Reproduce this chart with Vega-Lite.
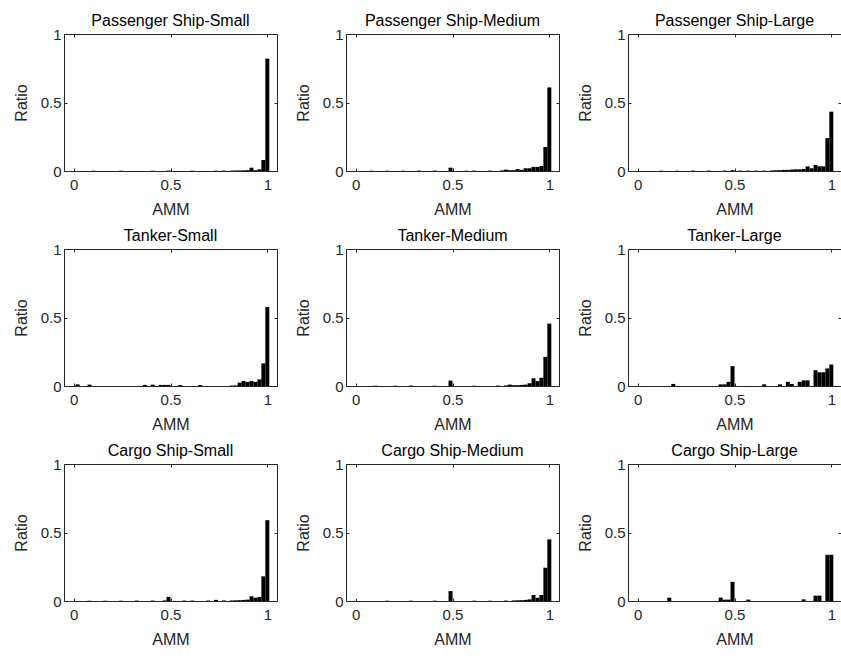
{
  "$schema": "https://vega.github.io/schema/vega-lite/v6.json",
  "background": "white",
  "padding": {"left": 12, "top": 12, "right": 0, "bottom": 0},
  "data": {"values": [
    {"panel": "Passenger Ship-Small", "amm": 1.0, "ratio": 0.82},
    {"panel": "Passenger Ship-Small", "amm": 0.9796, "ratio": 0.08},
    {"panel": "Passenger Ship-Small", "amm": 0.9592, "ratio": 0.012},
    {"panel": "Passenger Ship-Small", "amm": 0.9388, "ratio": 0.006},
    {"panel": "Passenger Ship-Small", "amm": 0.9184, "ratio": 0.024},
    {"panel": "Passenger Ship-Small", "amm": 0.898, "ratio": 0.006},
    {"panel": "Passenger Ship-Small", "amm": 0.8776, "ratio": 0.005},
    {"panel": "Passenger Ship-Small", "amm": 0.8571, "ratio": 0.004},
    {"panel": "Passenger Ship-Small", "amm": 0.8367, "ratio": 0.004},
    {"panel": "Passenger Ship-Small", "amm": 0.8163, "ratio": 0.003},
    {"panel": "Passenger Ship-Small", "amm": 0.7755, "ratio": 0.003},
    {"panel": "Passenger Ship-Small", "amm": 0.7347, "ratio": 0.002},
    {"panel": "Passenger Ship-Small", "amm": 0.6122, "ratio": 0.002},
    {"panel": "Passenger Ship-Small", "amm": 0.4898, "ratio": 0.003},
    {"panel": "Passenger Ship-Small", "amm": 0.4082, "ratio": 0.002},
    {"panel": "Passenger Ship-Small", "amm": 0.2449, "ratio": 0.002},
    {"panel": "Passenger Ship-Small", "amm": 0.102, "ratio": 0.002},

    {"panel": "Passenger Ship-Medium", "amm": 1.0, "ratio": 0.61},
    {"panel": "Passenger Ship-Medium", "amm": 0.9796, "ratio": 0.175},
    {"panel": "Passenger Ship-Medium", "amm": 0.9592, "ratio": 0.036},
    {"panel": "Passenger Ship-Medium", "amm": 0.9388, "ratio": 0.03},
    {"panel": "Passenger Ship-Medium", "amm": 0.9184, "ratio": 0.03},
    {"panel": "Passenger Ship-Medium", "amm": 0.898, "ratio": 0.02},
    {"panel": "Passenger Ship-Medium", "amm": 0.8776, "ratio": 0.02},
    {"panel": "Passenger Ship-Medium", "amm": 0.8571, "ratio": 0.008},
    {"panel": "Passenger Ship-Medium", "amm": 0.8367, "ratio": 0.014},
    {"panel": "Passenger Ship-Medium", "amm": 0.8163, "ratio": 0.006},
    {"panel": "Passenger Ship-Medium", "amm": 0.7959, "ratio": 0.006},
    {"panel": "Passenger Ship-Medium", "amm": 0.7755, "ratio": 0.01},
    {"panel": "Passenger Ship-Medium", "amm": 0.7551, "ratio": 0.004},
    {"panel": "Passenger Ship-Medium", "amm": 0.6939, "ratio": 0.003},
    {"panel": "Passenger Ship-Medium", "amm": 0.6122, "ratio": 0.003},
    {"panel": "Passenger Ship-Medium", "amm": 0.5714, "ratio": 0.002},
    {"panel": "Passenger Ship-Medium", "amm": 0.4898, "ratio": 0.024},
    {"panel": "Passenger Ship-Medium", "amm": 0.4082, "ratio": 0.003},
    {"panel": "Passenger Ship-Medium", "amm": 0.3265, "ratio": 0.003},
    {"panel": "Passenger Ship-Medium", "amm": 0.2449, "ratio": 0.002},
    {"panel": "Passenger Ship-Medium", "amm": 0.1633, "ratio": 0.002},
    {"panel": "Passenger Ship-Medium", "amm": 0.0816, "ratio": 0.002},

    {"panel": "Passenger Ship-Large", "amm": 1.0, "ratio": 0.433},
    {"panel": "Passenger Ship-Large", "amm": 0.9796, "ratio": 0.24},
    {"panel": "Passenger Ship-Large", "amm": 0.9592, "ratio": 0.034},
    {"panel": "Passenger Ship-Large", "amm": 0.9388, "ratio": 0.034},
    {"panel": "Passenger Ship-Large", "amm": 0.9184, "ratio": 0.044},
    {"panel": "Passenger Ship-Large", "amm": 0.898, "ratio": 0.02},
    {"panel": "Passenger Ship-Large", "amm": 0.8776, "ratio": 0.034},
    {"panel": "Passenger Ship-Large", "amm": 0.8571, "ratio": 0.015},
    {"panel": "Passenger Ship-Large", "amm": 0.8367, "ratio": 0.012},
    {"panel": "Passenger Ship-Large", "amm": 0.8163, "ratio": 0.012},
    {"panel": "Passenger Ship-Large", "amm": 0.7959, "ratio": 0.01},
    {"panel": "Passenger Ship-Large", "amm": 0.7755, "ratio": 0.008},
    {"panel": "Passenger Ship-Large", "amm": 0.7551, "ratio": 0.008},
    {"panel": "Passenger Ship-Large", "amm": 0.7347, "ratio": 0.006},
    {"panel": "Passenger Ship-Large", "amm": 0.7143, "ratio": 0.005},
    {"panel": "Passenger Ship-Large", "amm": 0.6939, "ratio": 0.004},
    {"panel": "Passenger Ship-Large", "amm": 0.6531, "ratio": 0.003},
    {"panel": "Passenger Ship-Large", "amm": 0.6122, "ratio": 0.003},
    {"panel": "Passenger Ship-Large", "amm": 0.5714, "ratio": 0.003},
    {"panel": "Passenger Ship-Large", "amm": 0.5306, "ratio": 0.003},
    {"panel": "Passenger Ship-Large", "amm": 0.4898, "ratio": 0.006},
    {"panel": "Passenger Ship-Large", "amm": 0.449, "ratio": 0.003},
    {"panel": "Passenger Ship-Large", "amm": 0.3673, "ratio": 0.003},
    {"panel": "Passenger Ship-Large", "amm": 0.2857, "ratio": 0.003},
    {"panel": "Passenger Ship-Large", "amm": 0.2041, "ratio": 0.002},
    {"panel": "Passenger Ship-Large", "amm": 0.1224, "ratio": 0.002},

    {"panel": "Tanker-Small", "amm": 1.0, "ratio": 0.576},
    {"panel": "Tanker-Small", "amm": 0.9796, "ratio": 0.165},
    {"panel": "Tanker-Small", "amm": 0.9592, "ratio": 0.048},
    {"panel": "Tanker-Small", "amm": 0.9388, "ratio": 0.03},
    {"panel": "Tanker-Small", "amm": 0.9184, "ratio": 0.036},
    {"panel": "Tanker-Small", "amm": 0.898, "ratio": 0.03},
    {"panel": "Tanker-Small", "amm": 0.8776, "ratio": 0.036},
    {"panel": "Tanker-Small", "amm": 0.8571, "ratio": 0.024},
    {"panel": "Tanker-Small", "amm": 0.8367, "ratio": 0.004},
    {"panel": "Tanker-Small", "amm": 0.8163, "ratio": 0.003},
    {"panel": "Tanker-Small", "amm": 0.6531, "ratio": 0.007},
    {"panel": "Tanker-Small", "amm": 0.551, "ratio": 0.007},
    {"panel": "Tanker-Small", "amm": 0.4898, "ratio": 0.008},
    {"panel": "Tanker-Small", "amm": 0.4694, "ratio": 0.008},
    {"panel": "Tanker-Small", "amm": 0.449, "ratio": 0.008},
    {"panel": "Tanker-Small", "amm": 0.4082, "ratio": 0.01},
    {"panel": "Tanker-Small", "amm": 0.3673, "ratio": 0.008},
    {"panel": "Tanker-Small", "amm": 0.0816, "ratio": 0.01},
    {"panel": "Tanker-Small", "amm": 0.0204, "ratio": 0.012},

    {"panel": "Tanker-Medium", "amm": 1.0, "ratio": 0.455},
    {"panel": "Tanker-Medium", "amm": 0.9796, "ratio": 0.213},
    {"panel": "Tanker-Medium", "amm": 0.9592, "ratio": 0.06},
    {"panel": "Tanker-Medium", "amm": 0.9388, "ratio": 0.036},
    {"panel": "Tanker-Medium", "amm": 0.9184, "ratio": 0.056},
    {"panel": "Tanker-Medium", "amm": 0.898, "ratio": 0.02},
    {"panel": "Tanker-Medium", "amm": 0.8776, "ratio": 0.01},
    {"panel": "Tanker-Medium", "amm": 0.8571, "ratio": 0.008},
    {"panel": "Tanker-Medium", "amm": 0.8367, "ratio": 0.006},
    {"panel": "Tanker-Medium", "amm": 0.8163, "ratio": 0.006},
    {"panel": "Tanker-Medium", "amm": 0.7959, "ratio": 0.01},
    {"panel": "Tanker-Medium", "amm": 0.7755, "ratio": 0.004},
    {"panel": "Tanker-Medium", "amm": 0.7347, "ratio": 0.003},
    {"panel": "Tanker-Medium", "amm": 0.6122, "ratio": 0.002},
    {"panel": "Tanker-Medium", "amm": 0.4898, "ratio": 0.039},
    {"panel": "Tanker-Medium", "amm": 0.4082, "ratio": 0.002},
    {"panel": "Tanker-Medium", "amm": 0.2857, "ratio": 0.003},
    {"panel": "Tanker-Medium", "amm": 0.2041, "ratio": 0.002},
    {"panel": "Tanker-Medium", "amm": 0.102, "ratio": 0.002},

    {"panel": "Tanker-Large", "amm": 1.0, "ratio": 0.157},
    {"panel": "Tanker-Large", "amm": 0.9796, "ratio": 0.128},
    {"panel": "Tanker-Large", "amm": 0.9592, "ratio": 0.1},
    {"panel": "Tanker-Large", "amm": 0.9388, "ratio": 0.1},
    {"panel": "Tanker-Large", "amm": 0.9184, "ratio": 0.116},
    {"panel": "Tanker-Large", "amm": 0.8776, "ratio": 0.041},
    {"panel": "Tanker-Large", "amm": 0.8571, "ratio": 0.041},
    {"panel": "Tanker-Large", "amm": 0.8367, "ratio": 0.03},
    {"panel": "Tanker-Large", "amm": 0.7959, "ratio": 0.015},
    {"panel": "Tanker-Large", "amm": 0.7755, "ratio": 0.03},
    {"panel": "Tanker-Large", "amm": 0.7347, "ratio": 0.012},
    {"panel": "Tanker-Large", "amm": 0.6531, "ratio": 0.012},
    {"panel": "Tanker-Large", "amm": 0.4898, "ratio": 0.145},
    {"panel": "Tanker-Large", "amm": 0.4694, "ratio": 0.03},
    {"panel": "Tanker-Large", "amm": 0.449, "ratio": 0.012},
    {"panel": "Tanker-Large", "amm": 0.4286, "ratio": 0.012},
    {"panel": "Tanker-Large", "amm": 0.1837, "ratio": 0.015},

    {"panel": "Cargo Ship-Small", "amm": 1.0, "ratio": 0.59},
    {"panel": "Cargo Ship-Small", "amm": 0.9796, "ratio": 0.18},
    {"panel": "Cargo Ship-Small", "amm": 0.9592, "ratio": 0.03},
    {"panel": "Cargo Ship-Small", "amm": 0.9388, "ratio": 0.024},
    {"panel": "Cargo Ship-Small", "amm": 0.9184, "ratio": 0.034},
    {"panel": "Cargo Ship-Small", "amm": 0.898, "ratio": 0.01},
    {"panel": "Cargo Ship-Small", "amm": 0.8776, "ratio": 0.008},
    {"panel": "Cargo Ship-Small", "amm": 0.8571, "ratio": 0.006},
    {"panel": "Cargo Ship-Small", "amm": 0.8367, "ratio": 0.005},
    {"panel": "Cargo Ship-Small", "amm": 0.8163, "ratio": 0.004},
    {"panel": "Cargo Ship-Small", "amm": 0.7755, "ratio": 0.004},
    {"panel": "Cargo Ship-Small", "amm": 0.7347, "ratio": 0.008},
    {"panel": "Cargo Ship-Small", "amm": 0.6939, "ratio": 0.003},
    {"panel": "Cargo Ship-Small", "amm": 0.6122, "ratio": 0.003},
    {"panel": "Cargo Ship-Small", "amm": 0.5714, "ratio": 0.003},
    {"panel": "Cargo Ship-Small", "amm": 0.4898, "ratio": 0.03},
    {"panel": "Cargo Ship-Small", "amm": 0.4694, "ratio": 0.004},
    {"panel": "Cargo Ship-Small", "amm": 0.4082, "ratio": 0.003},
    {"panel": "Cargo Ship-Small", "amm": 0.3265, "ratio": 0.003},
    {"panel": "Cargo Ship-Small", "amm": 0.2449, "ratio": 0.002},
    {"panel": "Cargo Ship-Small", "amm": 0.1633, "ratio": 0.002},
    {"panel": "Cargo Ship-Small", "amm": 0.0816, "ratio": 0.002},

    {"panel": "Cargo Ship-Medium", "amm": 1.0, "ratio": 0.45},
    {"panel": "Cargo Ship-Medium", "amm": 0.9796, "ratio": 0.243},
    {"panel": "Cargo Ship-Medium", "amm": 0.9592, "ratio": 0.044},
    {"panel": "Cargo Ship-Medium", "amm": 0.9388, "ratio": 0.024},
    {"panel": "Cargo Ship-Medium", "amm": 0.9184, "ratio": 0.044},
    {"panel": "Cargo Ship-Medium", "amm": 0.898, "ratio": 0.012},
    {"panel": "Cargo Ship-Medium", "amm": 0.8776, "ratio": 0.008},
    {"panel": "Cargo Ship-Medium", "amm": 0.8571, "ratio": 0.006},
    {"panel": "Cargo Ship-Medium", "amm": 0.8367, "ratio": 0.005},
    {"panel": "Cargo Ship-Medium", "amm": 0.8163, "ratio": 0.004},
    {"panel": "Cargo Ship-Medium", "amm": 0.7755, "ratio": 0.003},
    {"panel": "Cargo Ship-Medium", "amm": 0.6939, "ratio": 0.002},
    {"panel": "Cargo Ship-Medium", "amm": 0.6122, "ratio": 0.002},
    {"panel": "Cargo Ship-Medium", "amm": 0.4898, "ratio": 0.073},
    {"panel": "Cargo Ship-Medium", "amm": 0.4082, "ratio": 0.002},
    {"panel": "Cargo Ship-Medium", "amm": 0.2857, "ratio": 0.002},
    {"panel": "Cargo Ship-Medium", "amm": 0.1633, "ratio": 0.002},

    {"panel": "Cargo Ship-Large", "amm": 1.0, "ratio": 0.337},
    {"panel": "Cargo Ship-Large", "amm": 0.9796, "ratio": 0.337},
    {"panel": "Cargo Ship-Large", "amm": 0.9388, "ratio": 0.039},
    {"panel": "Cargo Ship-Large", "amm": 0.9184, "ratio": 0.039},
    {"panel": "Cargo Ship-Large", "amm": 0.8571, "ratio": 0.012},
    {"panel": "Cargo Ship-Large", "amm": 0.5714, "ratio": 0.01},
    {"panel": "Cargo Ship-Large", "amm": 0.4898, "ratio": 0.14},
    {"panel": "Cargo Ship-Large", "amm": 0.4694, "ratio": 0.01},
    {"panel": "Cargo Ship-Large", "amm": 0.449, "ratio": 0.01},
    {"panel": "Cargo Ship-Large", "amm": 0.4286, "ratio": 0.025},
    {"panel": "Cargo Ship-Large", "amm": 0.1633, "ratio": 0.024}
  ]},
  "facet": {
    "field": "panel",
    "type": "nominal",
    "sort": ["Passenger Ship-Small", "Passenger Ship-Medium", "Passenger Ship-Large", "Tanker-Small", "Tanker-Medium", "Tanker-Large", "Cargo Ship-Small", "Cargo Ship-Medium", "Cargo Ship-Large"],
    "header": {"title": null, "labelFont": "Liberation Sans", "labelFontSize": 16, "labelFontWeight": "normal", "labelColor": "black", "labelPadding": -2}
  },
  "columns": 3,
  "spacing": {"row": 78, "column": 69},
  "bounds": "flush",
  "resolve": {"axis": {"x": "independent", "y": "independent"}},
  "spec": {
    "width": 213,
    "height": 137,
    "layer": [
      {
        "mark": {"type": "bar", "color": "black", "width": 4},
        "encoding": {
          "x": {"field": "amm", "type": "quantitative", "scale": {"domain": [-0.05, 1.05], "nice": false, "zero": false, "padding": 0},
                "axis": {"orient": "bottom", "title": "AMM", "values": [0, 0.5, 1], "format": "~g", "labelPadding": 9, "titlePadding": 9}},
          "y": {"field": "ratio", "type": "quantitative", "scale": {"domain": [0, 1], "nice": false, "padding": 0},
                "axis": {"orient": "left", "title": "Ratio", "values": [0, 0.5, 1], "format": "~g", "labelPadding": 6, "titlePadding": 11}}
        }
      },
      {
        "mark": {"type": "bar", "color": "black", "opacity": 0, "width": 4},
        "encoding": {
          "x": {"field": "amm", "type": "quantitative", "axis": {"orient": "top", "title": null, "values": [0, 0.5, 1], "labels": false}},
          "y": {"field": "ratio", "type": "quantitative", "axis": {"orient": "right", "title": null, "values": [0, 0.5, 1], "labels": false}}
        }
      }
    ],
    "resolve": {"axis": {"x": "independent", "y": "independent"}}
  },
  "config": {
    "font": "Liberation Sans",
    "view": {"stroke": "#262626", "strokeWidth": 1},
    "scale": {"continuousPadding": 0},
    "header": {"labelFontWeight": "normal", "titleFontWeight": "normal"},
    "title": {"fontWeight": "normal"},
    "style": {"group-title": {"fontWeight": "normal"}, "guide-title": {"fontWeight": "normal"}},
    "axis": {
      "domain": false,
      "grid": false,
      "ticks": true,
      "tickSize": -3,
      "tickColor": "#262626",
      "tickWidth": 1,
      "labelFont": "Liberation Sans",
      "labelFontSize": 15,
      "labelColor": "#262626",
      "labelFlush": false,
      "labelOverlap": false,
      "titleFont": "Liberation Sans",
      "titleFontSize": 16,
      "titleFontWeight": "normal",
      "titleColor": "#262626"
    }
  }
}
